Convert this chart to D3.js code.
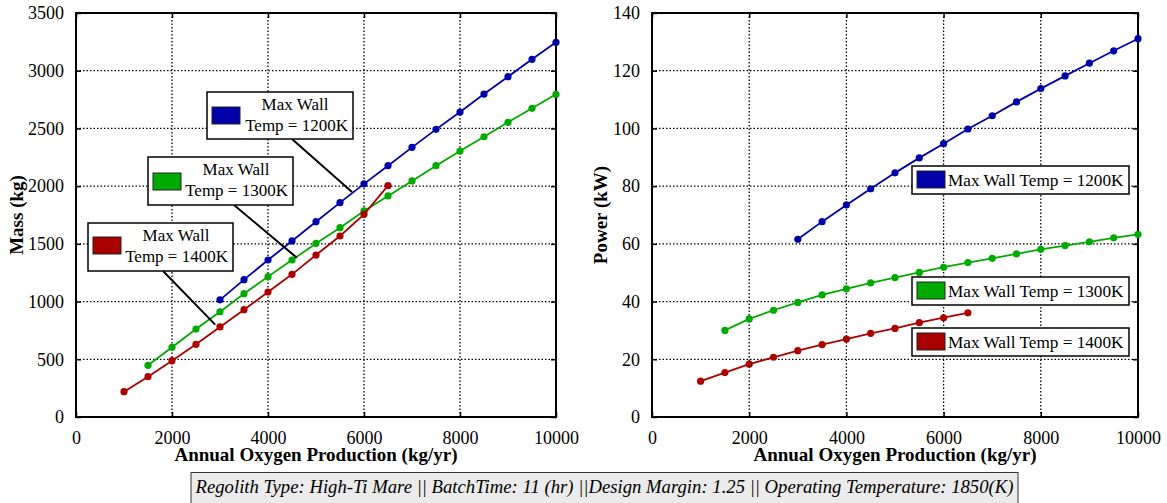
<!DOCTYPE html>
<html>
<head>
<meta charset="utf-8">
<script src="https://cdn.jsdelivr.net/npm/d3@7"></script>
<style>
  body { margin: 0; background: #fff; }
  svg text { font-family: 'Liberation Serif', 'Times New Roman', Times, 'DejaVu Serif', serif; }
</style>
</head>
<body>
<svg id="chart" width="1167" height="503"></svg>
<script>
// Annual oxygen production (kg/yr) for each series
const x1200 = [3000, 3500, 4000, 4500, 5000, 5500, 6000, 6500, 7000, 7500, 8000, 8500, 9000, 9500, 10000];
const x1300 = [1500, 2000, 2500, 3000, 3500, 4000, 4500, 5000, 5500, 6000, 6500, 7000, 7500, 8000, 8500, 9000, 9500, 10000];
const x1400 = [1000, 1500, 2000, 2500, 3000, 3500, 4000, 4500, 5000, 5500, 6000, 6500];

// mass (kg)
const mass1200 = [1015, 1190, 1360, 1525, 1692, 1857, 2020, 2177, 2336, 2492, 2642, 2798, 2948, 3099, 3246];
const mass1300 = [448, 604, 762, 912, 1068, 1216, 1360, 1504, 1640, 1785, 1915, 2045, 2177, 2304, 2428, 2553, 2674, 2796];
const mass1400 = [219, 349, 488, 630, 780, 930, 1083, 1236, 1403, 1568, 1756, 2004];

// power (kW)
const power1200 = [61.6, 67.7, 73.5, 79.1, 84.6, 89.8, 94.7, 99.8, 104.4, 109.2, 113.8, 118.2, 122.6, 126.9, 131.1];
const power1300 = [30.0, 34.0, 37.0, 39.7, 42.3, 44.4, 46.5, 48.3, 50.1, 51.9, 53.5, 55.0, 56.5, 58.1, 59.4, 60.7, 62.1, 63.3];
const power1400 = [12.4, 15.4, 18.3, 20.7, 23.0, 25.1, 27.0, 29.0, 30.7, 32.7, 34.4, 36.1];

const seriesNames = ['Max Wall Temp = 1200K', 'Max Wall Temp = 1300K', 'Max Wall Temp = 1400K'];
const colors = ['#0000aa', '#00aa00', '#aa0000'];

const xTicks = [0, 2000, 4000, 6000, 8000, 10000];
const massTicks = [0, 500, 1000, 1500, 2000, 2500, 3000, 3500];
const powerTicks = [0, 20, 40, 60, 80, 100, 120, 140];

const caption = 'Regolith Type: High-Ti Mare || BatchTime: 11 (hr) ||Design Margin: 1.25 || Operating Temperature: 1850(K)';

const svg = d3.select('#chart');

const zip = (xs, ys) => xs.map((x, i) => [x, ys[i]]);

/**
 * Draws one panel with grid, box, ticks, series lines and markers.
 */
const drawPanel = (opts) => {
  const x = d3.scaleLinear().domain([0, 10000]).range([opts.left, opts.right]);
  const y = d3.scaleLinear().domain(opts.yDomain).range([opts.bottom, opts.top]);
  const g = svg.append('g');

  // dotted grid
  g.append('g')
      .selectAll('line')
      .data(xTicks.slice(1, -1))
      .join('line')
      .attr('x1', (d) => x(d)).attr('x2', (d) => x(d))
      .attr('y1', opts.top).attr('y2', opts.bottom)
      .attr('stroke', '#000').attr('stroke-width', 1.3)
      .attr('stroke-dasharray', '1.5,2');
  g.append('g')
      .selectAll('line')
      .data(opts.yTicks.slice(1, -1))
      .join('line')
      .attr('y1', (d) => y(d)).attr('y2', (d) => y(d))
      .attr('x1', opts.left).attr('x2', opts.right)
      .attr('stroke', '#000').attr('stroke-width', 1.3)
      .attr('stroke-dasharray', '1.5,2');

  // axes with inward ticks
  const fmt = d3.format('d');
  const axB = g.append('g').attr('transform', `translate(0,${opts.bottom})`)
      .call(d3.axisBottom(x).tickValues(xTicks).tickFormat(fmt)
          .tickSizeInner(-5).tickSizeOuter(0).tickPadding(14));
  const axL = g.append('g').attr('transform', `translate(${opts.left},0)`)
      .call(d3.axisLeft(y).tickValues(opts.yTicks).tickFormat(fmt)
          .tickSizeInner(-5).tickSizeOuter(0).tickPadding(12));
  g.append('g').attr('transform', `translate(0,${opts.top})`)
      .call(d3.axisTop(x).tickValues(xTicks).tickSizeInner(-5).tickSizeOuter(0).tickFormat(''));
  g.append('g').attr('transform', `translate(${opts.right},0)`)
      .call(d3.axisRight(y).tickValues(opts.yTicks).tickSizeInner(-5).tickSizeOuter(0).tickFormat(''));
  g.selectAll('.domain').remove();
  g.selectAll('.tick line').attr('stroke', '#000').attr('stroke-width', 1.5);
  [axB, axL].forEach((a) => a
      .attr('font-family', null)
      .selectAll('text')
      .attr('font-size', 18)
      .attr('fill', '#000'));

  g.append('rect')
      .attr('x', opts.left).attr('y', opts.top)
      .attr('width', opts.right - opts.left).attr('height', opts.bottom - opts.top)
      .attr('fill', 'none').attr('stroke', '#000').attr('stroke-width', 2);

  // axis titles
  g.append('text')
      .attr('x', (opts.left + opts.right) / 2).attr('y', opts.bottom + 44)
      .attr('text-anchor', 'middle')
      .attr('font-size', 19).attr('font-weight', 'bold')
      .text('Annual Oxygen Production (kg/yr)');
  g.append('text')
      .attr('transform', `translate(${opts.yLabelX},${(opts.top + opts.bottom) / 2}) rotate(-90)`)
      .attr('text-anchor', 'middle')
      .attr('font-size', 19).attr('font-weight', 'bold')
      .text(opts.yLabel);

  // series
  const line = d3.line().x((d) => x(d[0])).y((d) => y(d[1]));
  opts.series.forEach((pts, i) => {
    g.append('path')
        .datum(pts)
        .attr('d', line)
        .attr('fill', 'none')
        .attr('stroke', colors[i])
        .attr('stroke-width', 1.8);
    g.append('g')
        .selectAll('circle')
        .data(pts)
        .join('circle')
        .attr('cx', (d) => x(d[0]))
        .attr('cy', (d) => y(d[1]))
        .attr('r', 3.6)
        .attr('fill', colors[i]);
  });
  return {x, y, g};
};

const massPanel = drawPanel({
  left: 76, right: 556, top: 13, bottom: 417,
  yDomain: [0, 3500], yTicks: massTicks, yLabel: 'Mass (kg)', yLabelX: 23,
  series: [zip(x1200, mass1200), zip(x1300, mass1300), zip(x1400, mass1400)],
});

const powerPanel = drawPanel({
  left: 652, right: 1138, top: 13, bottom: 417,
  yDomain: [0, 140], yTicks: powerTicks, yLabel: 'Power (kW)', yLabelX: 607,
  series: [zip(x1200, power1200), zip(x1300, power1300), zip(x1400, power1400)],
});

// two-line annotation boxes with leader lines on the mass panel
const massNotes = [
  {box: [207, 92, 146, 47], sw: [212, 107], tip: [5750, 1950], from: [292, 139]},
  {box: [148, 157, 145, 48], sw: [153, 173], tip: [4600, 1380], from: [234, 205]},
  {box: [88, 223, 145, 48], sw: [93, 237], tip: [2900, 800], from: [163, 271]},
];
massNotes.forEach((n, i) => {
  const g = massPanel.g.append('g');
  g.append('line')
      .attr('x1', n.from[0]).attr('y1', n.from[1])
      .attr('x2', massPanel.x(n.tip[0])).attr('y2', massPanel.y(n.tip[1]))
      .attr('stroke', '#000').attr('stroke-width', 2);
  g.append('rect')
      .attr('x', n.box[0]).attr('y', n.box[1]).attr('width', n.box[2]).attr('height', n.box[3])
      .attr('fill', '#fff').attr('stroke', '#000').attr('stroke-width', 1.5);
  g.append('rect')
      .attr('x', n.sw[0]).attr('y', n.sw[1]).attr('width', 28).attr('height', 17)
      .attr('fill', colors[i]).attr('stroke', '#222').attr('stroke-width', 1);
  const parts = seriesNames[i].split(' Temp');
  g.append('text')
      .attr('x', n.box[0] + 88).attr('y', n.box[1] + 18)
      .attr('text-anchor', 'middle').attr('font-size', 17)
      .text(parts[0]);
  g.append('text')
      .attr('x', n.box[0] + n.box[2] - 5).attr('y', n.box[1] + 39)
      .attr('text-anchor', 'end').attr('font-size', 17)
      .text('Temp' + parts[1]);
});

// single-line legend boxes on the power panel
const powerNotes = [166, 277, 328];
powerNotes.forEach((top, i) => {
  const g = powerPanel.g.append('g');
  g.append('rect')
      .attr('x', 912).attr('y', top).attr('width', 217).attr('height', 28)
      .attr('fill', '#fff').attr('stroke', '#000').attr('stroke-width', 1.5);
  g.append('rect')
      .attr('x', 917).attr('y', top + 5).attr('width', 28).attr('height', 17)
      .attr('fill', colors[i]).attr('stroke', '#222').attr('stroke-width', 1);
  g.append('text')
      .attr('x', 948).attr('y', top + 20)
      .attr('font-size', 17.2)
      .text(seriesNames[i]);
});

// caption box
const cap = svg.append('g');
cap.append('rect')
    .attr('x', 191).attr('y', 472.5).attr('width', 827).attr('height', 32)
    .attr('fill', '#ebebeb').attr('stroke', '#333').attr('stroke-width', 1);
cap.append('text')
    .attr('x', 604.5).attr('y', 493)
    .attr('text-anchor', 'middle')
    .attr('font-size', 18.7).attr('font-style', 'italic')
    .text(caption);
</script>
</body>
</html>
